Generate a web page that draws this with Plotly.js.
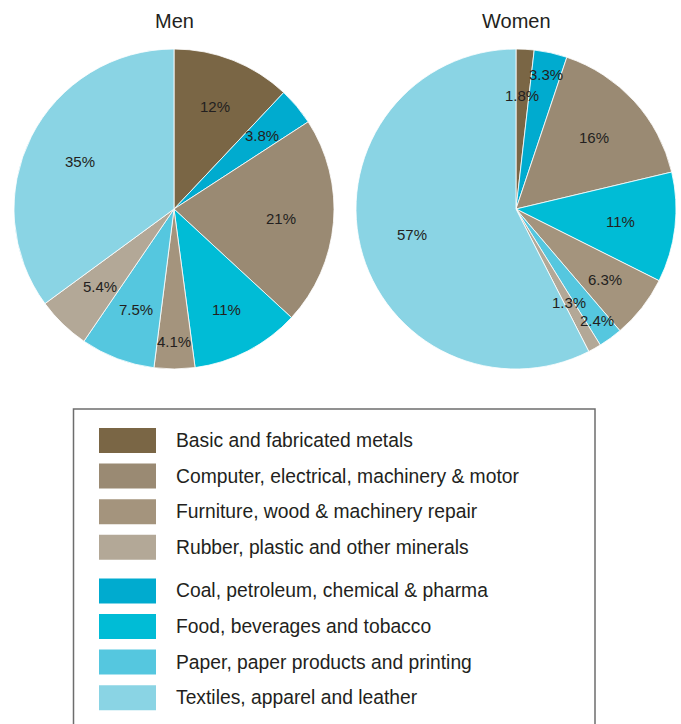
<!DOCTYPE html>
<html>
<head>
<meta charset="utf-8">
<script src="https://cdn.plot.ly/plotly-3.0.1.min.js"></script>
<style>
  html, body { margin: 0; padding: 0; background: #ffffff; }
  #chart { width: 681px; height: 724px; }
</style>
</head>
<body>
<div id="chart"></div>
<script>
// Manufacturing employment by industry, share of total (%)
const industries = [
  "Basic and fabricated metals",
  "Coal, petroleum, chemical & pharma",
  "Computer, electrical, machinery & motor",
  "Food, beverages and tobacco",
  "Furniture, wood & machinery repair",
  "Paper, paper products and printing",
  "Rubber, plastic and other minerals",
  "Textiles, apparel and leather"
];
const menShare   = [12, 3.8, 21, 11, 4.1, 7.5, 5.4, 35];
const womenShare = [1.8, 3.3, 16, 11, 6.3, 2.4, 1.3, 57];

const industryColors = [
  "#7a6645", // metals
  "#00abcf", // coal / chemicals
  "#9a8a73", // computer & machinery
  "#00bcd6", // food
  "#a4947d", // furniture
  "#55c7df", // paper
  "#b3a897", // rubber & plastics
  "#8ad4e4"  // textiles
];

// Legend listing: brown industries first, then blue ones
const legendGroups = [
  ["Basic and fabricated metals",
   "Computer, electrical, machinery & motor",
   "Furniture, wood & machinery repair",
   "Rubber, plastic and other minerals"],
  ["Coal, petroleum, chemical & pharma",
   "Food, beverages and tobacco",
   "Paper, paper products and printing",
   "Textiles, apparel and leather"]
];

const W = 681, H = 724;
const px = x => x / W;
const py = y => 1 - y / H;

const FONT = "Liberation Sans, Arial, sans-serif";
const INK = "#231f20";

// Pie placement (pixels) and how far out each percentage label sits (fraction of radius)
const pies = [
  { title: "Men",   values: menShare,   cx: 174, cy: 209, r: 160,
    labelRadius: [0.69, 0.72, 0.67, 0.71, 0.83, 0.67, 0.67, 0.66] },
  { title: "Women", values: womenShare, cx: 516, cy: 209, r: 160,
    labelRadius: [0.71, 0.86, 0.66, 0.66, 0.71, 0.86, 0.67, 0.67] }
];

const data = pies.map(p => ({
  type: "pie",
  name: p.title,
  labels: industries,
  values: p.values,
  textinfo: "none",
  sort: false,
  direction: "clockwise",
  rotation: 0,
  marker: { colors: industryColors, line: { color: "#ffffff", width: 0.8 } },
  domain: {
    x: [px(p.cx - p.r), px(p.cx + p.r)],
    y: [py(p.cy + p.r), py(p.cy - p.r)]
  },
  showlegend: false,
  hoverinfo: "label+value"
}));

const shapes = [];
const annotations = [];

pies.forEach(p => {
  // Chart title above each pie
  annotations.push({
    xref: "paper", yref: "paper",
    x: px(p.cx), y: py(21),
    text: p.title, showarrow: false,
    xanchor: "center", yanchor: "middle",
    font: { family: FONT, size: 20, color: INK }
  });
  // Percentage labels on the bisector of each slice, clockwise from 12 o'clock
  const total = p.values.reduce((a, b) => a + b, 0);
  let cum = 0;
  p.values.forEach((v, i) => {
    const theta = ((cum + v / 2) / total) * 2 * Math.PI;
    cum += v;
    const rr = p.labelRadius[i] * p.r;
    annotations.push({
      xref: "paper", yref: "paper",
      x: px(p.cx + rr * Math.sin(theta)),
      y: py(p.cy - rr * Math.cos(theta)),
      text: v + "%", showarrow: false,
      xanchor: "center", yanchor: "middle",
      font: { family: FONT, size: 15, color: INK }
    });
  });
});

// Legend frame
shapes.push({
  type: "rect", xref: "paper", yref: "paper",
  x0: px(73.5), x1: px(595), y0: py(740), y1: py(409),
  line: { color: "#6d6d6d", width: 1.5 }, fillcolor: "rgba(0,0,0,0)"
});

// Legend rows
let rowY = 440.5;
const rowStep = 35.6, groupGap = 8;
legendGroups.forEach((group, g) => {
  if (g > 0) rowY += groupGap;
  group.forEach(name => {
    const color = industryColors[industries.indexOf(name)];
    shapes.push({
      type: "rect", xref: "paper", yref: "paper",
      x0: px(99), x1: px(156), y0: py(rowY + 12.5), y1: py(rowY - 12.5),
      line: { width: 0 }, fillcolor: color
    });
    annotations.push({
      xref: "paper", yref: "paper",
      x: px(174), y: py(rowY),
      text: name, showarrow: false,
      xanchor: "left", yanchor: "middle",
      font: { family: FONT, size: 19.3, color: INK }
    });
    rowY += rowStep;
  });
});

const layout = {
  width: W, height: H,
  margin: { l: 0, r: 0, t: 0, b: 0 },
  paper_bgcolor: "#ffffff",
  plot_bgcolor: "#ffffff",
  showlegend: false,
  shapes: shapes,
  annotations: annotations
};

Plotly.newPlot("chart", data, layout, { staticPlot: true });
</script>
</body>
</html>
